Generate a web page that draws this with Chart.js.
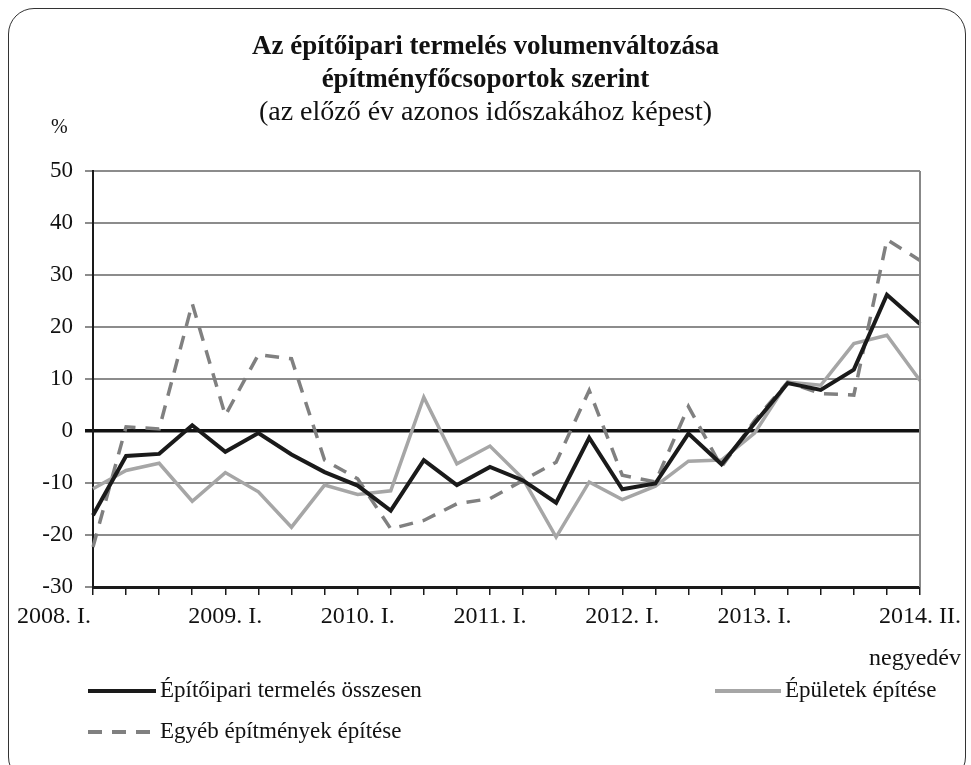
<!DOCTYPE html>
<html>
<head>
<meta charset="utf-8">
<script src="https://cdn.jsdelivr.net/npm/chart.js@4/dist/chart.umd.min.js"></script>
<style>
  html, body { margin: 0; padding: 0; background: #fff; }
  body { width: 971px; height: 765px; position: relative; overflow: hidden; font-family: "Liberation Serif", "DejaVu Serif", serif; color: #111; }
  #frame { position: absolute; left: 8px; top: 8px; width: 958px; height: 775px; border: 1.5px solid #333; border-radius: 26px; box-sizing: border-box; }
  #c { position: absolute; left: 0; top: 0; }
  .t { position: absolute; white-space: nowrap; line-height: 32px; }
  .title { left: 0; width: 971px; text-align: center; font-weight: bold; font-size: 27px; }
  .sub { left: 0; width: 971px; text-align: center; font-size: 28px; }
  .leg { position: absolute; font-size: 23px; white-space: nowrap; line-height: 28px; }
  .ln { position: absolute; height: 0; }
</style>
</head>
<body>
<div id="frame"></div>
<canvas id="c" width="971" height="765"></canvas>
<div class="t title" style="top:29px;">Az építőipari termelés volumenváltozása</div>
<div class="t title" style="top:62px;">építményfőcsoportok szerint</div>
<div class="t sub" style="top:95px;">(az előző év azonos időszakához képest)</div>
<div class="t" style="left:51px; top:110px; font-size:20px;">%</div>
<div class="t" style="right:10px; top:641px; font-size:24px;">negyedév</div>

<div class="ln" style="left:88px; top:689px; width:68px; border-top:4px solid #1a1a1a;"></div>
<div class="leg" style="left:160px; top:676px;">Építőipari termelés összesen</div>
<div class="ln" style="left:715px; top:689px; width:66px; border-top:4px solid #a6a6a6;"></div>
<div class="leg" style="left:785px; top:676px;">Épületek építése</div>
<div class="ln" style="left:88px; top:730px; width:68px; height:4px; background: repeating-linear-gradient(90deg, #808080 0 14px, transparent 14px 24px);"></div>
<div class="leg" style="left:160px; top:717px;">Egyéb építmények építése</div>

<script>
const categories = [
  "2008. I.","2008. II.","2008. III.","2008. IV.",
  "2009. I.","2009. II.","2009. III.","2009. IV.",
  "2010. I.","2010. II.","2010. III.","2010. IV.",
  "2011. I.","2011. II.","2011. III.","2011. IV.",
  "2012. I.","2012. II.","2012. III.","2012. IV.",
  "2013. I.","2013. II.","2013. III.","2013. IV.",
  "2014. I.","2014. II."
];
const shownLabels = {0: "2008. I.", 4: "2009. I.", 8: "2010. I.", 12: "2011. I.", 16: "2012. I.", 20: "2013. I.", 25: "2014. II."};

const totalSeries = [-16.2, -4.8, -4.4, 1.1, -4.0, -0.4, -4.5, -7.9, -10.5, -15.3, -5.6, -10.4, -6.9, -9.5, -13.8, -1.3, -11.2, -10.1, -0.5, -6.4, 1.5, 9.2, 7.9, 11.8, 26.2, 20.6];
const buildingsSeries = [-11.1, -7.6, -6.2, -13.5, -8.0, -11.7, -18.5, -10.4, -12.2, -11.5, 6.5, -6.3, -2.9, -9.2, -20.4, -9.8, -13.2, -10.6, -5.8, -5.6, -0.4, 9.4, 8.8, 16.8, 18.4, 9.7];
const otherSeries = [-22.3, 0.8, 0.4, 24.5, 3.0, 14.7, 13.9, -5.6, -9.2, -18.8, -17.2, -14.0, -13.0, -9.5, -6.0, 7.8, -8.5, -9.8, 4.7, -6.9, 2.0, 9.4, 7.2, 6.9, 36.8, 32.8];
const yTicks = [-30, -20, -10, 0, 10, 20, 30, 40, 50];

const rightBorder = {
  id: 'rightBorder',
  afterDraw(chart) {
    const {ctx, chartArea: a} = chart;
    ctx.save();
    ctx.strokeStyle = '#888';
    ctx.lineWidth = 2;
    ctx.beginPath();
    ctx.moveTo(a.right, a.top);
    ctx.lineTo(a.right, a.bottom);
    ctx.stroke();
    ctx.restore();
  }
};

new Chart(document.getElementById('c'), {
  type: 'line',
  data: {
    labels: categories,
    datasets: [
      { label: 'Építőipari termelés összesen', data: totalSeries, borderColor: '#1a1a1a', borderWidth: 4, pointRadius: 0, tension: 0 },
      { label: 'Épületek építése', data: buildingsSeries, borderColor: '#a6a6a6', borderWidth: 3.5, pointRadius: 0, tension: 0 },
      { label: 'Egyéb építmények építése', data: otherSeries, borderColor: '#808080', borderWidth: 3.5, borderDash: [14, 10], pointRadius: 0, tension: 0 }
    ]
  },
  options: {
    responsive: false,
    devicePixelRatio: 1,
    animation: false,
    layout: { padding: { left: 10, right: 51, top: 171, bottom: 138 } },
    plugins: { legend: { display: false }, title: { display: false }, tooltip: { enabled: false } },
    scales: {
      x: {
        type: 'category',
        offset: false,
        afterFit(s) { s.height = 40; },
        border: { display: true, color: '#1a1a1a', width: 3 },
        grid: { display: true, drawOnChartArea: false, drawTicks: true, tickLength: 8, color: '#1a1a1a', lineWidth: 1.5 },
        ticks: {
          autoSkip: false, maxRotation: 0, minRotation: 0, padding: 7,
          color: '#111',
          font: { family: 'Liberation Serif', size: 24 },
          callback: (v, i) => {
            if (i === 0) return shownLabels[0] + '\u00a0'.repeat(13);
            return shownLabels[i] || '';
          }
        }
      },
      y: {
        min: -30, max: 50,
        afterFit(s) { s.width = 83; },
        afterBuildTicks(s) { s.ticks = yTicks.map(v => ({ value: v })); },
        border: { display: true, color: '#1a1a1a', width: 2 },
        grid: {
          color: c => (c.tick && c.tick.value === 0) ? '#111' : '#8c8c8c',
          lineWidth: c => (c.tick && c.tick.value === 0) ? 3.5 : 2,
          tickLength: 8, drawTicks: true
        },
        ticks: { padding: 12, color: '#111', font: { family: 'Liberation Serif', size: 23 } }
      }
    }
  },
  plugins: [rightBorder]
});
</script>
</body>
</html>
